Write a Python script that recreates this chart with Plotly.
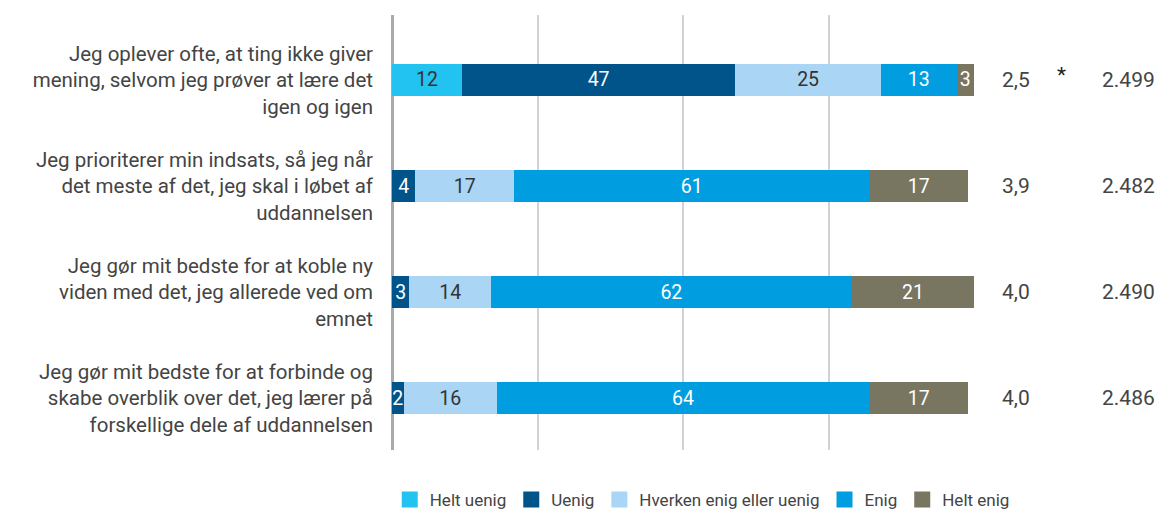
import plotly.graph_objects as go

categories = [
    "Jeg oplever ofte, at ting ikke giver<br>mening, selvom jeg prøver at lære det<br>igen og igen",
    "Jeg prioriterer min indsats, så jeg når<br>det meste af det, jeg skal i løbet af<br>uddannelsen",
    "Jeg gør mit bedste for at koble ny<br>viden med det, jeg allerede ved om<br>emnet",
    "Jeg gør mit bedste for at forbinde og<br>skabe overblik over det, jeg lærer på<br>forskellige dele af uddannelsen",
]
series_names = ["Helt uenig", "Uenig", "Hverken enig eller uenig", "Enig", "Helt enig"]
helt_uenig = [12, 0, 0, 0]
uenig = [47, 4, 3, 2]
hverken = [25, 17, 14, 16]
enig = [13, 61, 62, 64]
helt_enig = [3, 17, 21, 17]
means = ["2,5", "3,9", "4,0", "4,0"]
stars = ["*", "", "", ""]
n_values = ["2.499", "2.482", "2.490", "2.486"]

colors = ["#22c3f1", "#00548a", "#aad5f4", "#009ee0", "#787560"]
text_colors = ["#333333", "#ffffff", "#333333", "#ffffff", "#ffffff"]

font_family = "Roboto, 'Open Sans', sans-serif"

W, H = 1159, 509

fig = go.Figure()
for name, vals, col, tcol in zip(series_names, [helt_uenig, uenig, hverken, enig, helt_enig], colors, text_colors):
    fig.add_trace(go.Bar(
        y=categories, x=vals, name=name, orientation="h",
        marker=dict(color=col, line=dict(width=0)),
        text=[str(v) if v > 0 else "" for v in vals],
        textposition="inside", insidetextanchor="middle", textangle=0,
        textfont=dict(color=tcol, size=19.5, family=font_family),
        width=0.31, showlegend=False,
        hoverinfo="x+name",
    ))
# legend entries with larger square swatches
for name, col in zip(series_names, colors):
    fig.add_trace(go.Scatter(
        x=[None], y=[None], mode="markers", name=name,
        marker=dict(symbol="square", size=17, color=col),
        showlegend=True, hoverinfo="skip",
    ))

annotations = []
for i, cat in enumerate(categories):
    annotations.append(dict(x=1.072, y=cat, xref="paper", yref="y", text=means[i], showarrow=False,
                            xanchor="center", yanchor="middle",
                            font=dict(size=21, color="#444444", family=font_family)))
    if stars[i]:
        annotations.append(dict(x=1.151, y=cat, xref="paper", yref="y", text=stars[i], showarrow=False,
                                xanchor="center", yanchor="middle", yshift=5,
                                font=dict(size=21, color="#222222", family=font_family)))
    annotations.append(dict(x=1.3144, y=cat, xref="paper", yref="y", text=n_values[i], showarrow=False,
                            xanchor="right", yanchor="middle",
                            font=dict(size=21, color="#444444", family=font_family)))

fig.update_layout(
    barmode="stack",
    width=W, height=H,
    margin=dict(l=392, r=185, t=15, b=59, autoexpand=False),
    paper_bgcolor="white", plot_bgcolor="white",
    font=dict(family=font_family, color="#444444"),
    uniformtext=dict(minsize=19.5, mode="show"),
    showlegend=True,
    legend=dict(orientation="h", x=1.07, xanchor="right", xref="paper",
                y=-0.115, yanchor="middle", yref="paper",
                font=dict(size=17, color="#444444", family=font_family),
                traceorder="normal", itemclick=False, itemdoubleclick=False,
                itemwidth=30, tracegroupgap=0, bgcolor="rgba(0,0,0,0)"),
    annotations=annotations,
    xaxis=dict(range=[0, 100], showgrid=True, gridcolor="#d2d2d2", gridwidth=1.5,
               tickvals=[0, 25, 50, 75, 100], showticklabels=False, ticks="",
               zeroline=True, zerolinecolor="#aaaaaa", zerolinewidth=2.5,
               showline=False, fixedrange=True, automargin=False),
    yaxis=dict(autorange=False, range=[3.49, -0.613], showgrid=False, zeroline=False,
               ticks="", ticklabelstandoff=18, showline=False, automargin=False,
               tickfont=dict(size=20.5, color="#444444", family=font_family)),
)

fig.write_html(
    "out.html",
    config={"displayModeBar": False},
    post_script="document.body.style.margin='0px';document.body.style.overflow='hidden';",
)
